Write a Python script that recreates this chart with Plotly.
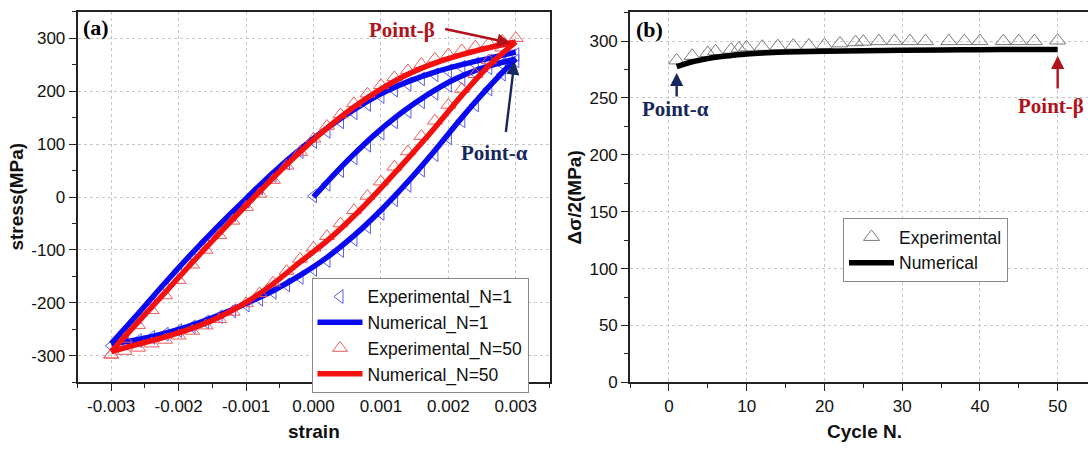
import plotly.graph_objects as go

# ---------------- panel (a) data ----------------
# Numerical N=1 : initial loading, unloading, reloading
num1_load_strain = [0.0, 0.0003, 0.0006, 0.0009, 0.0012, 0.0015, 0.0018, 0.0021, 0.0024, 0.0027, 0.003]
num1_load_stress = [0, 42, 81, 117, 149, 177, 202, 223, 239, 251, 261]
num1_unload_strain = [0.003, 0.0026, 0.0022, 0.0018, 0.0014, 0.001, 0.0006, 0.0002, -0.0002, -0.0006,
                      -0.001, -0.0014, -0.0018, -0.0022, -0.0026, -0.003]
num1_unload_stress = [261, 208, 150, 88, 29, -25, -73, -114, -148, -177, -201, -223, -242, -257, -269, -277]
num1_reload_strain = [-0.003, -0.0026, -0.0022, -0.0018, -0.0014, -0.001, -0.0006, -0.0002, 0.0002, 0.0006,
                      0.001, 0.0014, 0.0018, 0.0022, 0.0026, 0.003]
num1_reload_stress = [-277, -220, -162, -106, -53, -3, 46, 90, 130, 165, 195, 218, 236, 250, 262, 274]

# Numerical N=50 : unloading, reloading
num50_unload_strain = [0.003, 0.0026, 0.0022, 0.0018, 0.0014, 0.001, 0.0006, 0.0002, -0.0002, -0.0006,
                       -0.001, -0.0014, -0.0018, -0.0022, -0.0026, -0.003]
num50_unload_stress = [293, 248, 192, 131, 73, 17, -36, -83, -123, -164, -199, -227, -248, -264, -278, -292]
num50_reload_strain = [-0.003, -0.0026, -0.0022, -0.0018, -0.0014, -0.001, -0.0006, -0.0002, 0.0002, 0.0006,
                       0.001, 0.0014, 0.0018, 0.0022, 0.0026, 0.003]
num50_reload_stress = [-292, -236, -180, -124, -69, -16, 36, 85, 130, 170, 204, 232, 253, 269, 282, 293]

# Experimental N=1
exp1_load_strain = [0.0, 0.0002, 0.0004, 0.0006, 0.0008, 0.001, 0.0012, 0.0014, 0.0016, 0.0018,
                    0.002, 0.0022, 0.0024, 0.0026, 0.0028, 0.003]
exp1_load_stress = [2, 24, 50, 74, 98, 121, 142, 162, 180, 196, 211, 223, 234, 244, 251, 257]
exp1_unload_strain = [0.0028, 0.0026, 0.0024, 0.0022, 0.002, 0.0018, 0.0016, 0.0014, 0.0012, 0.001,
                      0.0008, 0.0006, 0.0004, 0.0002, 0.0, -0.0002, -0.0004, -0.0006, -0.0008, -0.001,
                      -0.0012, -0.0014, -0.0016, -0.0018, -0.002, -0.0022, -0.0024, -0.0026, -0.0028, -0.003]
exp1_unload_stress = [232, 204, 174, 144, 112, 80, 51, 22, -5, -31, -56, -80, -101, -120, -137, -152,
                      -166, -180, -193, -204, -215, -226, -236, -245, -252, -259, -265, -271, -275, -281]
exp1_reload_strain = [-0.0028, -0.0026, -0.0024, -0.0022, -0.002, -0.0018, -0.0016, -0.0014, -0.0012, -0.001,
                      -0.0008, -0.0006, -0.0004, -0.0002, 0.0, 0.0002, 0.0004, 0.0006, 0.0008, 0.001,
                      0.0012, 0.0014, 0.0016, 0.0018, 0.002, 0.0022, 0.0024, 0.0026, 0.0028, 0.003]
exp1_reload_stress = [-255, -226, -197, -168, -139, -111, -84, -58, -33, -8, 17, 41, 64, 86, 105, 124,
                      142, 159, 175, 190, 202, 213, 223, 231, 238, 245, 251, 257, 263, 269]

# Experimental N=50
exp50_unload_strain = [0.0028, 0.0026, 0.0024, 0.0022, 0.002, 0.0018, 0.0016, 0.0014, 0.0012, 0.001,
                       0.0008, 0.0006, 0.0004, 0.0002, 0.0, -0.0002, -0.0004, -0.0006, -0.0008, -0.001,
                       -0.0012, -0.0014, -0.0016, -0.0018, -0.002, -0.0022, -0.0024, -0.0026, -0.0028, -0.003]
exp50_unload_stress = [282, 258, 232, 204, 174, 144, 115, 86, 57, 29, 2, -25, -50, -74, -96, -117,
                       -140, -162, -182, -201, -217, -231, -243, -253, -262, -270, -277, -285, -291, -298]
exp50_reload_strain = [-0.003, -0.0028, -0.0026, -0.0024, -0.0022, -0.002, -0.0018, -0.0016, -0.0014, -0.0012,
                       -0.001, -0.0008, -0.0006, -0.0004, -0.0002, 0.0, 0.0002, 0.0004, 0.0006, 0.0008,
                       0.001, 0.0012, 0.0014, 0.0016, 0.0018, 0.002, 0.0022, 0.0024, 0.0026, 0.0028, 0.003]
exp50_reload_stress = [-298, -268, -242, -214, -186, -157, -128, -100, -72, -45, -19, 6, 32, 59, 85, 110,
                       134, 156, 177, 195, 211, 226, 239, 251, 261, 269, 277, 284, 290, 295, 300]

strain_tickvals = [-0.003, -0.002, -0.001, 0.0, 0.001, 0.002, 0.003]
strain_ticktext = ["-0.003", "-0.002", "-0.001", "0.000", "0.001", "0.002", "0.003"]
stress_tickvals = [-300, -200, -100, 0, 100, 200, 300]
stress_ticktext = ["-300", "-200", "-100", "0", "100", "200", "300"]

# ---------------- panel (b) data ----------------
cycle_exp = [1, 3, 5, 6, 8, 9, 10, 12, 14, 16, 18, 20, 22, 24, 25, 27, 29, 31, 33, 36, 38, 40, 43, 45, 47, 50]
amp_exp = [283, 287, 289.5, 291, 292.5, 293.5, 294.5, 295, 295.5, 296, 296, 296.5, 298, 299, 299.5,
           300, 300, 300, 300, 300, 300, 300, 300, 300, 300, 300.5]
cycle_num = [1, 2, 3, 4, 5, 6, 7, 8, 10, 12, 15, 20, 25, 30, 35, 40, 45, 50]
amp_num = [277.5, 279.8, 281.8, 283.3, 284.6, 285.7, 286.6, 287.3, 288.6, 289.5, 290.3, 291, 291.5,
           291.9, 292.2, 292.4, 292.6, 292.7]
cycle_tickvals = [0, 10, 20, 30, 40, 50]
amp_tickvals = [0, 50, 100, 150, 200, 250, 300]

# ---------------- styling ----------------
BLUE = "#0a0af0"
RED = "#f51010"
BLUE_M = "#5a5af0"
RED_M = "#f05a5a"
NAVY = "#16285e"
DRED = "#b3121b"
SANS = "Liberation Sans, Arial, sans-serif"
SERIF = "Liberation Serif, Times New Roman, serif"
W, H = 1088, 450

fig = go.Figure()

# panel (a)
fig.add_trace(go.Scatter(
    x=exp1_load_strain + exp1_unload_strain + exp1_reload_strain,
    y=exp1_load_stress + exp1_unload_stress + exp1_reload_stress,
    mode="markers", name="Experimental_N=1",
    marker=dict(symbol="triangle-left-open", size=12, color=BLUE_M, line=dict(width=1)),
    xaxis="x", yaxis="y", legend="legend"))
for i, (xs, ys) in enumerate([(num1_load_strain, num1_load_stress),
                              (num1_unload_strain, num1_unload_stress),
                              (num1_reload_strain, num1_reload_stress)]):
    fig.add_trace(go.Scatter(
        x=xs, y=ys, mode="lines", name="Numerical_N=1", legendgroup="n1", showlegend=(i == 0),
        line=dict(color=BLUE, width=5.5, shape="spline", smoothing=1.0),
        xaxis="x", yaxis="y", legend="legend"))
fig.add_trace(go.Scatter(
    x=exp50_unload_strain + exp50_reload_strain,
    y=exp50_unload_stress + exp50_reload_stress,
    mode="markers", name="Experimental_N=50",
    marker=dict(symbol="triangle-up-open", size=13, color=RED_M, line=dict(width=1)),
    xaxis="x", yaxis="y", legend="legend"))
for i, (xs, ys) in enumerate([(num50_unload_strain, num50_unload_stress),
                              (num50_reload_strain, num50_reload_stress)]):
    fig.add_trace(go.Scatter(
        x=xs, y=ys, mode="lines", name="Numerical_N=50", legendgroup="n50", showlegend=(i == 0),
        line=dict(color=RED, width=5.5, shape="spline", smoothing=1.0),
        xaxis="x", yaxis="y", legend="legend"))

# panel (b)
fig.add_trace(go.Scatter(
    x=cycle_exp, y=amp_exp, mode="markers", name="Experimental",
    marker=dict(symbol="triangle-up-open", size=14, color="#7a7a7a", line=dict(width=1)),
    xaxis="x2", yaxis="y2", legend="legend2"))
fig.add_trace(go.Scatter(
    x=cycle_num, y=amp_num, mode="lines", name="Numerical",
    line=dict(color="black", width=5.5, shape="spline"),
    xaxis="x2", yaxis="y2", legend="legend2"))

axis_common = dict(
    showline=True, linecolor="#222222", linewidth=1.6,
    ticks="outside", ticklen=7, tickwidth=1.4, tickcolor="#222222",
    showgrid=True, gridcolor="#c8c8c8", griddash="dot", gridwidth=1,
    zeroline=False, tickfont=dict(family=SANS, size=17, color="#111111"),
)

ya_dom = [1 - 391 / H, 1 - 12 / H]

fig.update_layout(
    width=W, height=H, margin=dict(l=0, r=0, t=0, b=0),
    paper_bgcolor="white", plot_bgcolor="white",
    xaxis=dict(axis_common, domain=[77.5 / W, 549.5 / W], range=[-0.0035, 0.0035],
               tickmode="array", tickvals=strain_tickvals, ticktext=strain_ticktext, mirror=True,
               minor=dict(dtick=0.0005, tick0=0, ticks="outside", ticklen=4, tickcolor="#222222",
                          showgrid=False),
               anchor="y"),
    yaxis=dict(axis_common, domain=ya_dom, range=[-350, 350],
               tickmode="array", tickvals=stress_tickvals, ticktext=stress_ticktext, mirror=True,
               minor=dict(dtick=50, tick0=0, ticks="outside", ticklen=4, tickcolor="#222222",
                          showgrid=False),
               anchor="x"),
    xaxis2=dict(axis_common, domain=[630 / W, 1.0], range=[-5, 53.9],
                tickmode="array", tickvals=cycle_tickvals, mirror=True,
                minor=dict(dtick=5, tick0=0, ticks="outside", ticklen=4, tickcolor="#222222",
                           showgrid=False),
                anchor="y2"),
    yaxis2=dict(axis_common, domain=ya_dom, range=[0, 325.8],
                tickmode="array", tickvals=amp_tickvals,
                minor=dict(dtick=25, tick0=0, ticks="outside", ticklen=4, tickcolor="#222222",
                           showgrid=False),
                anchor="x2"),
    legend=dict(x=311.5 / W, y=1 - 284 / H, xanchor="left", yanchor="top",
                bgcolor="white", bordercolor="#8a8a8a", borderwidth=1,
                font=dict(family=SANS, size=17.5, color="#111111"),
                itemwidth=45, tracegroupgap=0),
    legend2=dict(x=843 / W, y=1 - 223 / H, xanchor="left", yanchor="top",
                 bgcolor="white", bordercolor="#8a8a8a", borderwidth=1,
                 font=dict(family=SANS, size=17.5, color="#111111"),
                 itemwidth=45, tracegroupgap=0),
    showlegend=True,
)

ann = []
# panel labels
ann.append(dict(text="<b>(a)</b>", xref="paper", yref="paper", x=81 / W, y=1 - 28.5 / H,
                xanchor="left", yanchor="middle", showarrow=False,
                font=dict(family=SERIF, size=22, color="black")))
ann.append(dict(text="<b>(b)</b>", xref="paper", yref="paper", x=634 / W, y=1 - 30 / H,
                xanchor="left", yanchor="middle", showarrow=False,
                font=dict(family=SERIF, size=22, color="black")))
# axis titles
ann.append(dict(text="<b>strain</b>", xref="paper", yref="paper", x=313.5 / W, y=1 - 441 / H,
                xanchor="center", yanchor="middle", showarrow=False,
                font=dict(family=SANS, size=19, color="#111111")))
ann.append(dict(text="<b>stress(MPa)</b>", xref="paper", yref="paper", x=17 / W, y=1 - 201 / H,
                xanchor="center", yanchor="middle", showarrow=False, textangle=-90,
                font=dict(family=SANS, size=19, color="#111111")))
ann.append(dict(text="<b>Cycle N.</b>", xref="paper", yref="paper", x=864 / W, y=1 - 441 / H,
                xanchor="center", yanchor="middle", showarrow=False,
                font=dict(family=SANS, size=19, color="#111111")))
ann.append(dict(text="<b>Δσ/2(MPa)</b>", xref="paper", yref="paper", x=575 / W, y=1 - 202 / H,
                xanchor="center", yanchor="middle", showarrow=False, textangle=-90,
                font=dict(family=SANS, size=19, color="#111111")))

# point labels and arrows, panel (a)
ann.append(dict(text="<b>Point-β</b>", xref="x", yref="y", x=0.00131, y=315,
                xanchor="center", yanchor="middle", showarrow=False,
                font=dict(family=SERIF, size=21, color=DRED)))
ann.append(dict(text="", xref="x", yref="y", x=0.00292, y=291, axref="x", ayref="y",
                ax=0.00193, ay=318, showarrow=True, arrowhead=2, arrowsize=1.1, arrowwidth=2.4,
                arrowcolor=DRED, standoff=0, startstandoff=0))
ann.append(dict(text="<b>Point-α</b>", xref="x", yref="y", x=0.00268, y=83,
                xanchor="center", yanchor="middle", showarrow=False,
                font=dict(family=SERIF, size=21, color=NAVY)))
ann.append(dict(text="", xref="x", yref="y", x=0.00298, y=256, axref="x", ayref="y",
                ax=0.00285, ay=120, showarrow=True, arrowhead=2, arrowsize=1.1, arrowwidth=2.4,
                arrowcolor=NAVY, standoff=0, startstandoff=0))
# panel (b)
ann.append(dict(text="<b>Point-α</b>", xref="x2", yref="y2", x=0.8, y=240,
                xanchor="center", yanchor="middle", showarrow=False,
                font=dict(family=SERIF, size=21, color=NAVY)))
ann.append(dict(text="", xref="x2", yref="y2", x=1, y=272, axref="x2", ayref="y2",
                ax=1, ay=250, showarrow=True, arrowhead=2, arrowsize=1.1, arrowwidth=2.4,
                arrowcolor=NAVY, standoff=0, startstandoff=0))
ann.append(dict(text="<b>Point-β</b>", xref="x2", yref="y2", x=44.6, y=243,
                xanchor="left", yanchor="middle", showarrow=False,
                font=dict(family=SERIF, size=21, color=DRED)))
ann.append(dict(text="", xref="x2", yref="y2", x=50, y=287, axref="x2", ayref="y2",
                ax=50, ay=257, showarrow=True, arrowhead=2, arrowsize=1.1, arrowwidth=2.4,
                arrowcolor=DRED, standoff=0, startstandoff=0))

fig.update_layout(annotations=ann)
fig.write_html("out.html")
